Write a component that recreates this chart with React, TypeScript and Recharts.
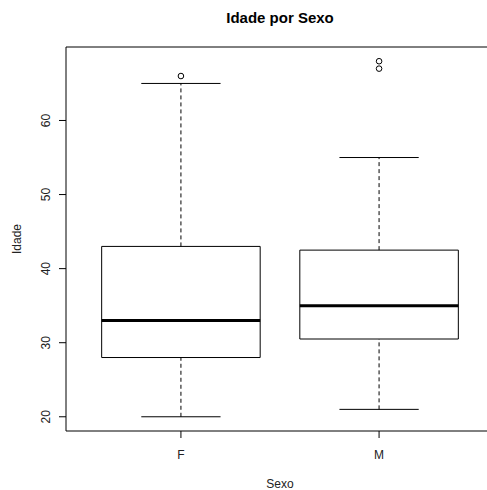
import React from 'react'
import {
  ComposedChart,
  XAxis,
  YAxis,
  Scatter,
  ReferenceArea,
  ReferenceLine,
  Label,
} from 'recharts'

const categories = ['F', 'M']
const mins = [20, 21]
const q1s = [28, 30.5]
const medians = [33, 35]
const q3s = [43, 42.5]
const maxs = [65, 55]
const outliers = [
  { x: 1, y: 66 },
  { x: 2, y: 67 },
  { x: 2, y: 68 },
]
const yTicks = [20, 30, 40, 50, 60]
const xTicks = [1, 2]
const yDomain: [number, number] = [18.08, 69.92]
const xDomain: [number, number] = [0.42, 2.58]

const BOX_HALF = 0.4
const CAP_HALF = 0.2
const INK = '#000'
const TEXT = '#222'

const YTick: React.FC<any> = ({ x, y, payload }) => (
  <text
    x={x}
    y={y}
    transform={`rotate(-90, ${x}, ${y})`}
    textAnchor="middle"
    fontSize={12}
    fill={TEXT}
  >
    {payload.value}
  </text>
)

const Outlier: React.FC<any> = ({ cx, cy }) => {
  if (cx == null || cy == null) return null
  return <circle cx={cx} cy={cy} r={2.8} fill="none" stroke={INK} strokeWidth={1} />
}

const YTitle: React.FC<any> = ({ viewBox }) => {
  const x = viewBox.x + 21
  const y = viewBox.y + viewBox.height / 2
  return (
    <text x={x} y={y} transform={`rotate(-90, ${x}, ${y})`} textAnchor="middle" fontSize={12} fill={TEXT}>
      Idade
    </text>
  )
}

const XTitle: React.FC<any> = ({ viewBox }) => (
  <text x={viewBox.x + viewBox.width / 2} y={viewBox.y + 57} textAnchor="middle" fontSize={12} fill={TEXT}>
    Sexo
  </text>
)

export default function App() {
  return (
    <div
      style={{
        position: 'absolute',
        left: 0,
        top: 0,
        width: 487,
        height: 490,
        overflow: 'hidden',
        background: '#fff',
        fontFamily: '"Liberation Sans", Arial, sans-serif',
      }}
    >
      <div
        style={{
          position: 'absolute',
          left: 0,
          top: 10,
          width: 560,
          textAlign: 'center',
          fontSize: 15,
          lineHeight: '15px',
          fontWeight: 'bold',
          color: '#000',
        }}
      >
        Idade por Sexo
      </div>
      <ComposedChart width={500} height={490} margin={{ top: 47, right: 6, bottom: 29, left: 0 }}>
        <XAxis
          type="number"
          dataKey="x"
          domain={xDomain}
          ticks={xTicks}
          allowDataOverflow
          tickFormatter={(v: number) => categories[v - 1]}
          axisLine={false}
          tickLine={{ stroke: INK }}
          tickSize={7}
          tickMargin={12}
          height={30}
          tick={{ fontSize: 12, fill: TEXT }}
        >
          <Label content={<XTitle />} />
        </XAxis>
        <YAxis
          type="number"
          dataKey="y"
          domain={yDomain}
          ticks={yTicks}
          allowDataOverflow
          axisLine={false}
          tickLine={{ stroke: INK }}
          tickSize={7}
          tickMargin={9}
          width={66}
          tick={<YTick />}
        >
          <Label content={<YTitle />} />
        </YAxis>

        {/* plot frame */}
        <ReferenceArea
          x1={xDomain[0]}
          x2={xDomain[1]}
          y1={yDomain[0]}
          y2={yDomain[1]}
          fill="none"
          stroke={INK}
          strokeWidth={1}
          fillOpacity={0}
        />

        {categories.map((c, i) => {
          const pos = i + 1
          return (
            <React.Fragment key={c}>
              {/* whiskers */}
              <ReferenceLine
                segment={[{ x: pos, y: mins[i] }, { x: pos, y: q1s[i] }]}
                stroke={INK}
                strokeDasharray="4 3"
              />
              <ReferenceLine
                segment={[{ x: pos, y: q3s[i] }, { x: pos, y: maxs[i] }]}
                stroke={INK}
                strokeDasharray="4 3"
              />
              {/* caps */}
              <ReferenceLine
                segment={[{ x: pos - CAP_HALF, y: mins[i] }, { x: pos + CAP_HALF, y: mins[i] }]}
                stroke={INK}
              />
              <ReferenceLine
                segment={[{ x: pos - CAP_HALF, y: maxs[i] }, { x: pos + CAP_HALF, y: maxs[i] }]}
                stroke={INK}
              />
              {/* box */}
              <ReferenceArea
                x1={pos - BOX_HALF}
                x2={pos + BOX_HALF}
                y1={q1s[i]}
                y2={q3s[i]}
                fill="#fff"
                fillOpacity={1}
                stroke={INK}
                strokeWidth={1}
              />
              {/* median */}
              <ReferenceLine
                segment={[{ x: pos - BOX_HALF, y: medians[i] }, { x: pos + BOX_HALF, y: medians[i] }]}
                stroke={INK}
                strokeWidth={3}
              />
            </React.Fragment>
          )
        })}

        <Scatter data={outliers} dataKey="y" shape={<Outlier />} isAnimationActive={false} />
      </ComposedChart>
    </div>
  )
}
